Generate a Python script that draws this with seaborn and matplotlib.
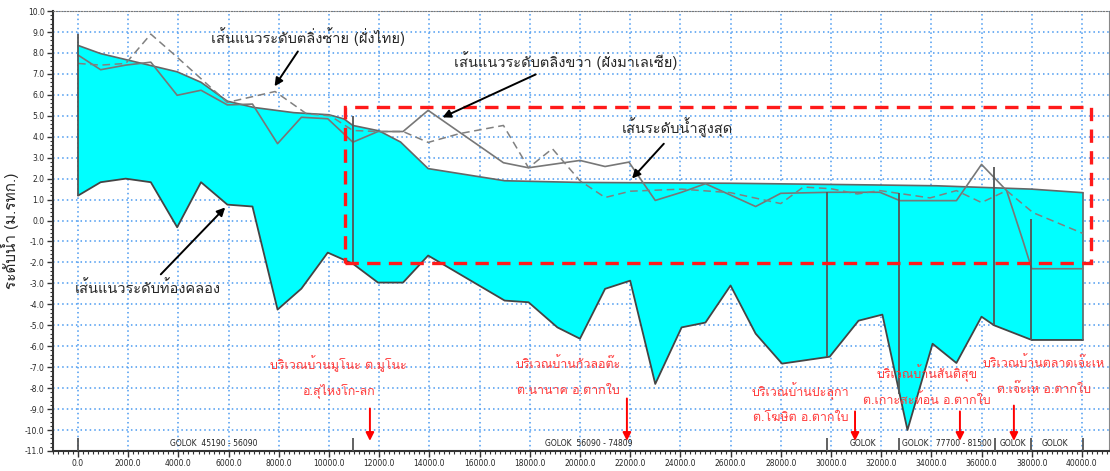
import numpy as np
import matplotlib
matplotlib.use("Agg")
import matplotlib.pyplot as plt
import seaborn as sns
from matplotlib import font_manager
from matplotlib.ft2font import FT2Font
from matplotlib.patches import Rectangle
from matplotlib.ticker import MultipleLocator, FormatStrFormatter

# long profile of the Golok river, chainage (m) vs level (m MSL)
surface_x = [0, 900, 2900, 3950, 4900, 5950, 7000, 8600, 10000, 10600, 10950,
             12000, 12850, 13950, 17000, 20000, 26000, 31700, 34200, 38000, 40050]
surface_y = [8.36, 7.97, 7.4, 7.1, 6.6, 5.7, 5.4, 5.15, 5.05, 4.85, 4.54,
             4.28, 3.75, 2.48, 1.9, 1.82, 1.78, 1.7, 1.66, 1.5, 1.33]

bed_x = [0, 900, 1900, 2900, 3950, 4900, 5950, 6950, 7950, 8900, 9950, 10950,
         11950, 12950, 13950, 17000, 17950, 19100, 20000, 21000, 22000, 23000,
         24050, 25000, 26000, 27000, 28050, 29950, 31100, 32050, 33050, 34050,
         35000, 36000, 36500, 38000, 40050]
bed_y = [1.19, 1.83, 2.0, 1.83, -0.32, 1.83, 0.76, 0.67, -4.25, -3.25, -1.53, -2.06,
         -2.96, -2.96, -1.67, -3.82, -3.9, -5.1, -5.64, -3.26, -2.87, -7.8,
         -5.1, -4.87, -3.1, -5.4, -6.83, -6.5, -4.78, -4.49, -10.0, -5.88,
         -6.8, -4.59, -5.0, -5.7, -5.7]

right_bank_x = [0, 900, 1900, 2900, 3950, 4900, 5950, 6950, 7950, 8900, 9950, 10950,
                11950, 12950, 13950, 16950, 17950, 20000, 21000, 21950, 23000, 24050,
                25000, 27000, 28000, 30000, 31950, 32750, 35000, 36000, 37000, 37650,
                38000, 40050]
right_bank_y = [7.9, 7.2, 7.42, 7.56, 5.98, 6.22, 5.52, 5.56, 3.67, 4.93, 4.86, 3.74,
                4.25, 4.25, 5.26, 2.76, 2.52, 2.87, 2.58, 2.79, 0.96, 1.35,
                1.76, 0.67, 1.3, 1.35, 1.35, 0.95, 0.95, 2.68, 1.43, -0.96,
                -2.3, -2.3]

left_bank_x = [0, 900, 1900, 2900, 3900, 5950, 7850, 9100, 10050, 10950, 11950, 12950,
               13950, 15200, 16950, 17950, 18900, 20000, 21000, 22000, 24050, 26000,
               28000, 28900, 30000, 31050, 31950, 33950, 35000, 36000, 37000, 38050, 40050]
left_bank_y = [7.5, 7.42, 7.5, 8.9, 7.85, 5.64, 6.16, 5.1, 5.0, 4.3, 4.25, 4.25,
               3.73, 4.15, 4.54, 2.52, 3.43, 1.9, 1.1, 1.4, 1.5, 1.33,
               0.81, 1.6, 1.52, 1.27, 1.43, 1.08, 1.43, 0.86, 1.43, 0.38, -0.62]

# cross-section stations drawn as vertical lines
section_x = [0, 10950, 29850, 32700, 36500, 37970]
section_top = [8.9, 5.0, 1.35, 1.3, 2.55, 0.08]
section_bottom = [1.19, -2.06, -6.5, -8.3, -5.0, -5.7]

# reach boundaries along the bottom
reach_x = [0, 10950, 29850, 32700, 36550, 37970, 40050]
reach_labels = ["GOLOK  45190 - 56090", "GOLOK  56090 - 74809", "GOLOK",
                "GOLOK   77700 - 81500", "GOLOK", "GOLOK"]
reach_label_x = [5420, 20360, 31270, 34620, 37250, 38920]

# red village labels
village_line1 = ["บริเวณบ้านมูโนะ ต.มูโนะ", "บริเวณบ้านกัวลอต๊ะ", "บริเวณบ้านปะลุกา",
                 "บริเวณบ้านสันติสุข", "บริเวณบ้านตลาดเจ๊ะเห"]
village_line2 = ["อ.สุไหงโก-ลก", "ต.นานาค อ.ตากใบ", "ต.โฆษิต อ.ตากใบ",
                 "ต.เกาะสะท้อน อ.ตากใบ", "ต.เจ๊ะเห อ.ตากใบ"]
village_text_x = [10360, 19520, 28800, 33820, 38480]
village_text_y = [-6.83, -6.83, -8.12, -7.26, -6.78]
village_arrow_x = [11630, 21870, 30960, 35140, 37290]
village_arrow_top = [-8.84, -8.36, -8.98, -8.98, -8.7]

sns.set_style("white")

# pick an installed font that has Thai glyphs
thai_font = None
for f in font_manager.fontManager.ttflist:
    try:
        if FT2Font(f.fname).get_char_index(ord("ก")):
            thai_font = f.name
            break
    except Exception:
        pass
plt.rcParams["font.family"] = [thai_font, "DejaVu Sans"] if thai_font else ["DejaVu Sans"]

fig = plt.figure(figsize=(11.1, 4.71), dpi=100)
ax = fig.add_axes([0.0477, 0.0425, 0.9514, 0.934])

# water body between max water level and channel bed
ax.fill(np.r_[surface_x, bed_x[::-1]], np.r_[surface_y, bed_y[::-1]],
        color="#00ffff", zorder=2, lw=0)
sns.lineplot(x=surface_x, y=surface_y, sort=False, estimator=None,
             color="#666666", lw=1.2, ax=ax, zorder=3)
sns.lineplot(x=bed_x, y=bed_y, sort=False, estimator=None,
             color="#444444", lw=1.3, ax=ax, zorder=3)
ax.vlines(40050, -5.7, 1.33, color="#666666", lw=1.2, zorder=3)

sns.lineplot(x=right_bank_x, y=right_bank_y, sort=False, estimator=None,
             color="#777777", lw=1.2, ax=ax, zorder=4)
sns.lineplot(x=left_bank_x, y=left_bank_y, sort=False, estimator=None,
             color="#808080", lw=1.1, linestyle=(0, (5, 3)), ax=ax, zorder=4)

ax.vlines(section_x, section_bottom, section_top, color="#555555", lw=1.3, zorder=5)
ax.vlines(reach_x, -11, -10.4, color="#555555", lw=1.3, zorder=5)
for lx, lab in zip(reach_label_x, reach_labels):
    ax.text(lx, -10.62, lab, ha="center", va="center", fontsize=5.5,
            color="#222222", family="DejaVu Sans", zorder=6)

# study area box
ax.add_patch(Rectangle((10640, -2.05), 40360 - 10640, 5.4 + 2.05, fill=False,
                       edgecolor="#ff1a1a", lw=2.4, linestyle=(0, (4, 2.5)), zorder=6))

# black labels for the lines
arrow_k = dict(arrowstyle="-|>", color="black", lw=1.4, mutation_scale=12)
ax.annotate("เส้นแนวระดับตลิ่งซ้าย (ฝั่งไทย)", xy=(7770, 6.3), xytext=(9160, 8.79),
            ha="center", va="center", fontsize=10.5, arrowprops=arrow_k, zorder=7)
ax.annotate("เส้นแนวระดับตลิ่งขวา (ฝั่งมาเลเซีย)", xy=(14420, 4.87), xytext=(19440, 7.64),
            ha="center", va="center", fontsize=10.5, arrowprops=arrow_k, zorder=7)
ax.annotate("เส้นระดับน้ำสูงสุด", xy=(22000, 1.91), xytext=(23900, 4.4),
            ha="center", va="center", fontsize=10.5, arrowprops=arrow_k, zorder=7)
ax.annotate("เส้นแนวระดับท้องคลอง", xy=(5940, 0.72), xytext=(2790, -3.2),
            ha="center", va="center", fontsize=10.5, arrowprops=arrow_k, zorder=7)

# red village labels and arrows
arrow_r = dict(arrowstyle="-|>", color="#ff0000", lw=1.4, mutation_scale=12)
for i in range(len(village_line1)):
    ax.text(village_text_x[i], village_text_y[i], village_line1[i], ha="center",
            va="center", fontsize=9, color="#ff3b3b", zorder=7)
    ax.text(village_text_x[i], village_text_y[i] - 1.3, village_line2[i], ha="center",
            va="center", fontsize=9, color="#ff3b3b", zorder=7)
    ax.annotate("", xy=(village_arrow_x[i], -10.65),
                xytext=(village_arrow_x[i], village_arrow_top[i]),
                arrowprops=arrow_r, zorder=7)

ax.set_xlim(-1000, 41080)
ax.set_ylim(-11, 10)
ax.xaxis.set_major_locator(MultipleLocator(2000))
ax.xaxis.set_minor_locator(MultipleLocator(200))
ax.yaxis.set_major_locator(MultipleLocator(1))
ax.yaxis.set_minor_locator(MultipleLocator(0.2))
ax.xaxis.set_major_formatter(FormatStrFormatter("%.1f"))
ax.yaxis.set_major_formatter(FormatStrFormatter("%.1f"))
ax.tick_params(axis="both", which="major", direction="out", length=4, width=1,
               color="#333333", labelsize=5.5, pad=2)
ax.tick_params(axis="both", which="minor", direction="out", length=2.5, width=0.8,
               color="#333333")
ax.tick_params(axis="x", which="both", bottom=True)
ax.tick_params(axis="y", which="both", left=True)
for t in ax.get_xticklabels() + ax.get_yticklabels():
    t.set_family("DejaVu Sans")

ax.grid(True, which="major", color="#4a9af0", linestyle=(0, (1, 2)), lw=1.1, zorder=0)
ax.set_axisbelow(True)
for s in ["left", "bottom"]:
    ax.spines[s].set_color("#333333")
    ax.spines[s].set_linewidth(1.5)
ax.spines["top"].set_color("#777777")
ax.spines["top"].set_linestyle((0, (1, 1.5)))
ax.spines["right"].set_color("#888888")
ax.spines["right"].set_linewidth(0.8)

ax.set_ylabel("ระดับน้ำ (ม.รทก.)", fontsize=11, labelpad=4)

fig.savefig("out.png", dpi=100)
